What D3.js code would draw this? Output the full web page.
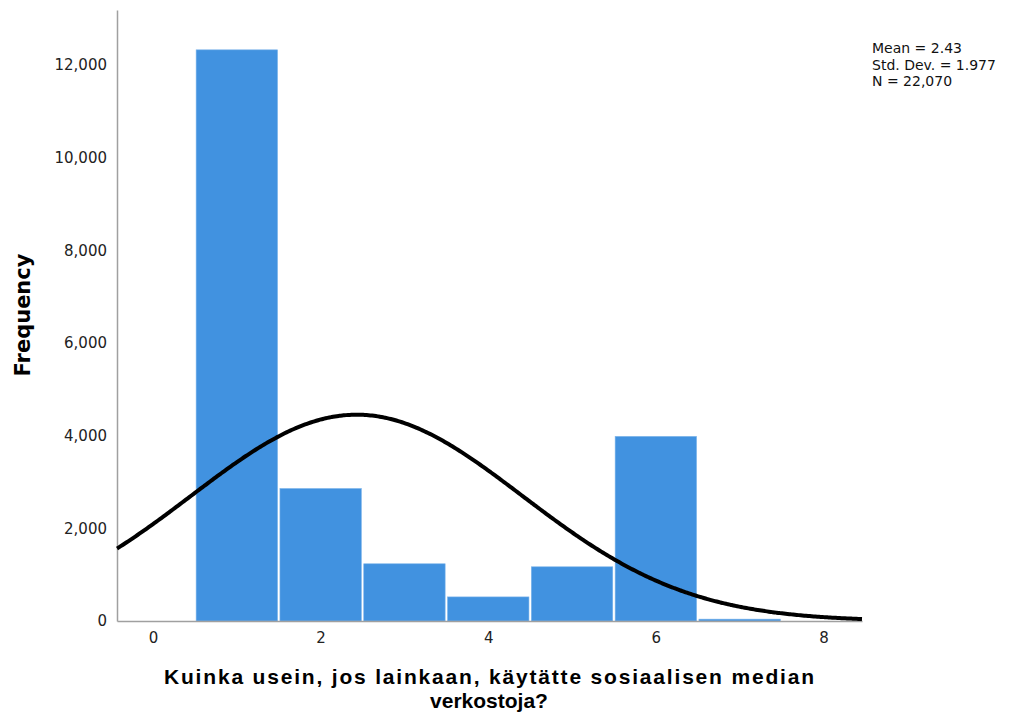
<!DOCTYPE html>
<html>
<head>
<meta charset="utf-8">
<script src="https://cdn.jsdelivr.net/npm/d3@7"></script>
<style>
  body { margin: 0; background: #fff; }
  svg { display: block; }
</style>
</head>
<body>
<svg id="chart" width="1016" height="715"></svg>
<script>
// Response categories (bin centres) and their frequencies
const categories = [1, 2, 3, 4, 5, 6, 7];
const frequencies = [12330, 2860, 1235, 520, 1170, 3985, 40];

const xTicks = [0, 2, 4, 6, 8];
const yTicks = [0, 2000, 4000, 6000, 8000, 10000, 12000];

const stats = { mean: 2.43, sd: 1.977, n: 22070 };
const statLines = ["Mean = 2.43", "Std. Dev. = 1.977", "N = 22,070"];

const xTitleLines = ["Kuinka usein, jos lainkaan, käytätte sosiaalisen median", "verkostoja?"];
const yTitle = "Frequency";

const svg = d3.select("#chart");

const plot = { left: 117, right: 862, top: 10, bottom: 621 };

const x = d3.scaleLinear().domain([-0.43, 8.46]).range([plot.left, plot.right]);
const y = d3.scaleLinear().domain([0, 13190]).range([plot.bottom, plot.top]);

const tickFont = "DejaVu Sans, sans-serif";
const gap = 1.2; // white gap on each side of a bar

// Bars, one unit wide centred on each category
svg.append("g")
  .selectAll("rect")
  .data(categories)
  .join("rect")
  .attr("x", (d) => x(d - 0.5) + gap)
  .attr("width", (d) => x(d + 0.5) - x(d - 0.5) - 2 * gap)
  .attr("y", (d, i) => y(frequencies[i]))
  .attr("height", (d, i) => y(0) - y(frequencies[i]))
  .attr("fill", "#4192e0")
  .attr("stroke", "#7ab3ea")
  .attr("stroke-width", 0.6);

// Axes (lines only, no tick marks)
const xAxis = d3.axisBottom(x).tickValues(xTicks).tickSize(0).tickPadding(11).tickFormat(d3.format("d"));
const gx = svg.append("g").attr("transform", `translate(0,${plot.bottom})`).call(xAxis);
gx.select(".domain").attr("stroke", "#a0a0a0").attr("stroke-width", 1.5);
gx.selectAll("text").attr("font-family", tickFont).attr("font-size", 15).attr("fill", "#222");

const yAxis = d3.axisLeft(y).tickValues(yTicks).tickSize(0).tickPadding(10).tickFormat(d3.format(","));
const gy = svg.append("g").attr("transform", `translate(${plot.left},0)`).call(yAxis);
gy.select(".domain").attr("stroke", "#a0a0a0").attr("stroke-width", 1.5);
gy.selectAll("text").attr("font-family", tickFont).attr("font-size", 15).attr("fill", "#222");

// Fitted normal curve scaled to counts per unit bin
const pdf = (v) => Math.exp(-0.5 * ((v - stats.mean) / stats.sd) ** 2) / (stats.sd * Math.sqrt(2 * Math.PI));
const curveX = d3.range(0, 401).map((i) => x.domain()[0] + (x.domain()[1] - x.domain()[0]) * i / 400);
svg.append("path")
  .datum(curveX)
  .attr("fill", "none")
  .attr("stroke", "#000")
  .attr("stroke-width", 4)
  .attr("d", d3.line().x((d) => x(d)).y((d) => y(stats.n * pdf(d))).curve(d3.curveBasis));

// Summary statistics
svg.append("g")
  .selectAll("text")
  .data(statLines)
  .join("text")
  .attr("x", 872)
  .attr("y", (d, i) => 53 + i * 16.5)
  .attr("font-family", tickFont)
  .attr("font-size", 14)
  .attr("fill", "#111")
  .text((d) => d);

// Axis titles
svg.append("text")
  .attr("transform", "translate(30,315) rotate(-90)")
  .attr("text-anchor", "middle")
  .attr("font-family", "DejaVu Sans, sans-serif")
  .attr("font-weight", "bold")
  .attr("font-size", 21)
  .text(yTitle);

const xTitle = svg.append("g")
  .selectAll("text")
  .data(xTitleLines)
  .join("text")
  .attr("x", 489)
  .attr("y", (d, i) => 684 + i * 24)
  .attr("text-anchor", "middle")
  .attr("font-family", "'Liberation Sans', Arial, sans-serif")
  .attr("font-weight", "bold")
  .attr("font-size", 21)
  .text((d) => d);
xTitle.filter((d, i) => i === 0)
  .attr("textLength", 650)
  .attr("lengthAdjust", "spacing");
</script>
</body>
</html>
